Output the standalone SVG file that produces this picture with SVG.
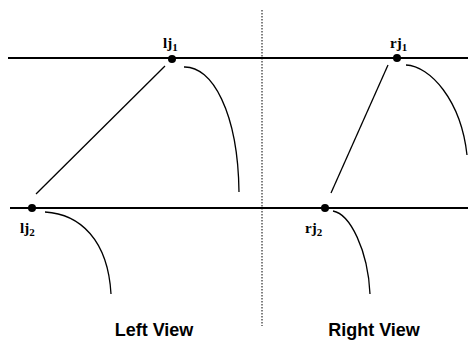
<svg xmlns="http://www.w3.org/2000/svg" width="468" height="343" viewBox="0 0 468 343">
<style>
.ln{stroke:#000;stroke-width:2;fill:none}
.th{stroke:#000;stroke-width:1.3;fill:none}
.dot{fill:#000}
.lbl{font-family:"Liberation Serif",serif;font-weight:bold;font-size:15px;fill:#000}
.sub{font-size:11px}
.ttl{font-family:"Liberation Sans",Arial,sans-serif;font-weight:bold;font-size:18px;fill:#000;text-anchor:middle}
</style>
<rect width="468" height="343" fill="#fff"/>
<g id="epipolar-lines">
<line class="ln" x1="8" y1="58" x2="468" y2="58"/>
<line class="ln" x1="10" y1="208" x2="468" y2="208"/>
<line x1="262" y1="10" x2="262" y2="326" stroke="#000" stroke-width="1" stroke-dasharray="1.5,1.5"/>
</g>
<g id="connectors">
<line class="th" x1="165" y1="66" x2="36" y2="194"/>
<path class="th" d="M184,67 C212,66 238,112 239,192"/>
<path class="th" d="M45,212 C80,214 108,240 111,294"/>
<line class="th" x1="388" y1="65" x2="331" y2="193"/>
<path class="th" d="M406,65 C430,66 461,100 467,155"/>
<path class="th" d="M333,211 C350,214 368,250 370,294"/>
</g>
<g id="lj1"><circle class="dot" cx="172" cy="59" r="4"/><text class="lbl" x="163" y="48">lj<tspan class="sub" dy="3">1</tspan></text></g>
<g id="rj1"><circle class="dot" cx="397" cy="58" r="4"/><text class="lbl" x="390" y="48">rj<tspan class="sub" dy="3">1</tspan></text></g>
<g id="lj2"><circle class="dot" cx="32" cy="208" r="4"/><text class="lbl" x="20" y="233">lj<tspan class="sub" dy="3">2</tspan></text></g>
<g id="rj2"><circle class="dot" cx="325" cy="208" r="4"/><text class="lbl" x="305" y="233">rj<tspan class="sub" dy="3">2</tspan></text></g>
<g id="titles">
<text class="ttl" x="154" y="336">Left View</text>
<text class="ttl" x="374" y="336">Right View</text>
</g>
</svg>
